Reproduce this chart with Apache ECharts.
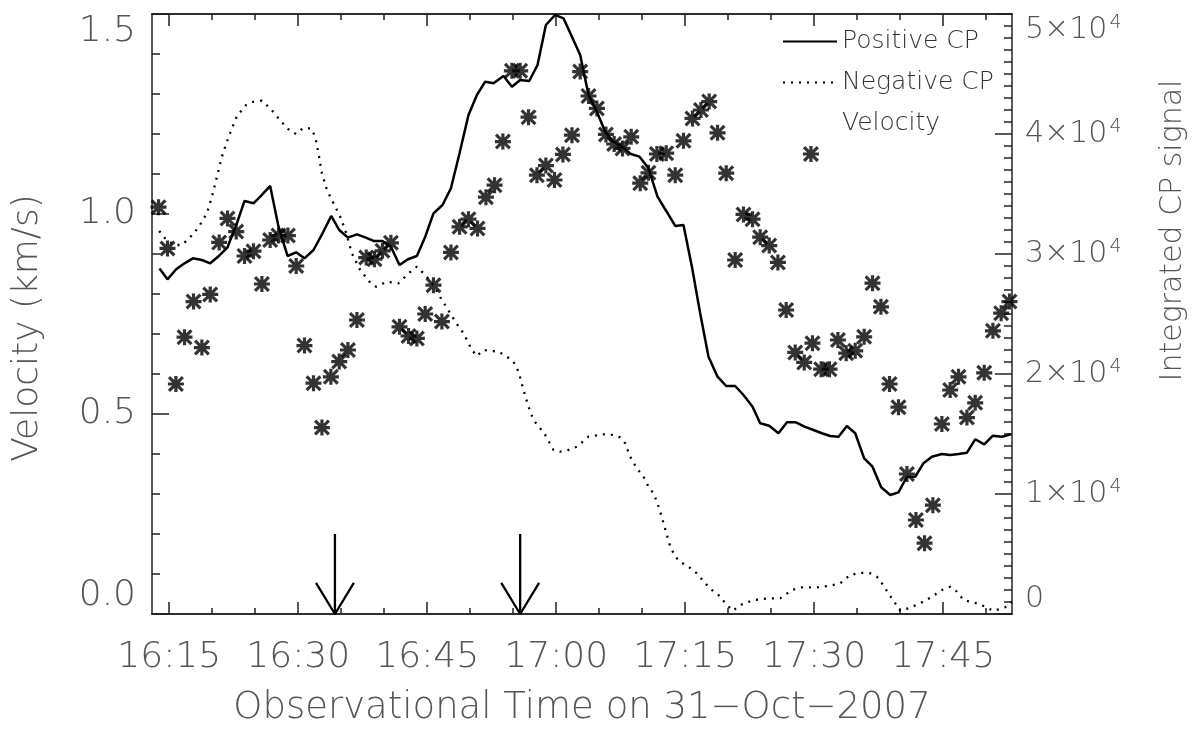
<!DOCTYPE html>
<html>
<head>
<meta charset="utf-8">
<script src="https://cdn.jsdelivr.net/npm/echarts@6/dist/echarts.min.js"></script>
<style>html,body{margin:0;padding:0;background:#fff;}#c{width:1203px;height:729px;}</style>
</head>
<body>
<div id="c"></div>
<script>
// Time in minutes after 16:00 UT, 31-Oct-2007
const posCpTime = [13.87,14.80,15.81,16.78,17.76,18.80,19.77,20.81,21.78,22.87,23.76,24.80,25.78,26.74,27.71,28.76,29.77,30.73,31.78,32.83,33.84,34.77,35.78,36.83,37.79,38.76,39.80,40.78,41.78,42.76,43.80,44.77,45.73,46.78,47.76,48.76,49.80,50.78,51.74,52.71,53.87,54.85,55.81,56.86,57.83,58.80,59.88,60.85,61.83,62.79,63.76,64.73,65.70,66.66,67.64,68.69,69.69,70.73,71.78,72.79,73.84,74.80,75.78,76.74,77.71,78.76,79.77,80.81,81.78,82.83,83.72,84.77,85.85,86.83,87.87,88.87,89.92,90.90,91.86,92.83,93.80,94.77,95.81,96.78,97.79,98.84,99.80,100.78,101.74,102.71,103.69,104.85,105.81,106.78,107.76,108.72,109.77,110.78,111.83,112.87];
const posCpValue = [28800,27890,28725,29225,29640,29500,29225,29860,30560,32560,34420,34225,34920,35670,32275,29835,30140,29640,30335,31725,33170,32000,31360,31640,31390,31085,31085,30610,29085,29560,29835,31440,33390,34085,35475,38390,41585,43250,44360,44225,44835,43940,44500,44415,45750,49085,49920,49640,48110,46585,43250,41860,40190,39360,38940,38335,38110,37140,34775,33585,32335,32420,28940,25060,21440,19775,19000,19000,18250,17275,15890,15690,15060,15975,15975,15610,15335,15060,14835,14775,15665,15060,12975,12275,10560,9915,10140,11440,11440,12560,13110,13335,13250,13335,13440,14560,14140,14860,14775,14975];

const negCpTime = [13.84,14.73,15.70,16.48,17.44,18.41,19.38,19.97,20.55,21.13,21.78,22.29,22.87,23.95,24.80,25.78,26.74,27.71,28.37,29.07,29.77,30.55,31.48,31.98,32.36,32.76,33.34,33.92,34.88,35.47,36.24,37.21,38.37,39.07,40.31,41.66,42.83,43.80,44.77,45.70,46.71,47.21,48.26,49.22,50.20,50.78,51.55,53.29,54.27,55.03,55.62,56.20,56.78,57.36,58.14,58.72,59.69,60.47,61.43,62.41,63.76,65.50,66.66,67.44,68.02,68.60,69.38,70.15,70.73,71.31,71.71,72.09,72.48,72.87,73.26,73.84,74.42,75.38,76.36,77.33,78.10,78.87,79.85,80.55,81.40,82.94,84.88,86.05,87.41,88.57,90.31,91.86,93.02,94.19,95.35,96.51,97.29,97.87,98.64,99.42,100.00,100.97,102.33,103.69,104.85,105.81,106.59,107.36,108.92,109.88,110.85,112.41,112.99];
const negCpValue = [31915,31110,30750,30750,31390,32225,33390,34775,36440,38110,39500,40475,41500,42415,42690,42775,42140,41310,40750,40250,40000,40475,40475,39775,38390,36725,35330,34500,33110,32000,30060,28665,27610,27275,27690,27560,28390,28940,28250,27415,26165,25610,24360,23390,22000,21500,22000,21860,21440,21025,20190,18665,17275,16165,15475,14915,13665,13525,13665,13940,14775,14975,14915,14725,14225,13110,12140,11440,10610,10060,9360,8525,7560,6585,5610,4775,4360,3940,3390,2560,2000,1585,750,275,750,1165,1310,1310,2000,2225,2225,2360,2560,3250,3440,3390,3110,2560,1725,890,275,475,890,1440,2000,2275,1860,1165,890,610,250,610,1025];

const velTime = [13.76,14.80,15.78,16.78,17.83,18.80,19.77,20.81,21.78,22.79,23.76,24.80,25.78,26.74,27.71,28.80,29.77,30.73,31.78,32.76,33.80,34.77,35.78,36.83,37.91,38.87,39.80,40.78,41.78,42.83,43.80,44.77,45.73,46.71,47.76,48.76,49.80,50.85,51.83,52.83,53.80,54.85,55.81,56.78,57.76,58.80,59.80,60.78,61.83,62.79,63.76,64.73,65.78,66.74,67.71,68.72,69.77,70.73,71.71,72.79,73.84,74.80,75.85,76.83,77.79,78.76,79.77,80.81,81.78,82.83,83.72,84.77,85.78,86.74,87.79,88.84,89.62,89.80,90.81,91.78,92.76,93.72,94.77,95.81,96.78,97.76,98.76,99.80,100.78,101.83,102.83,103.80,104.85,105.81,106.78,107.76,108.72,109.77,110.78,111.74,112.71];
const velValue = [1.017,0.914,0.575,0.692,0.781,0.666,0.799,0.929,0.989,0.956,0.895,0.907,0.825,0.935,0.946,0.946,0.870,0.671,0.577,0.466,0.593,0.631,0.660,0.735,0.891,0.887,0.908,0.928,0.718,0.695,0.689,0.750,0.822,0.731,0.904,0.968,0.987,0.964,1.042,1.072,1.181,1.358,1.358,1.242,1.097,1.121,1.085,1.149,1.197,1.356,1.295,1.264,1.199,1.175,1.164,1.193,1.077,1.103,1.150,1.152,1.097,1.183,1.239,1.260,1.281,1.203,1.102,0.885,0.999,0.987,0.942,0.921,0.879,0.760,0.654,0.629,1.150,0.677,0.612,0.612,0.685,0.652,0.658,0.693,0.827,0.768,0.575,0.517,0.350,0.235,0.177,0.272,0.475,0.560,0.593,0.491,0.528,0.603,0.708,0.752,0.781];

// Arrow marker times (minutes after 16:00) and shaft top (km/s)
const arrowTimes = [34.27, 55.81];
const arrowTop = 0.2;

const majorTickTimes = [15, 30, 45, 60, 75, 90, 105];
const minorTickTimes = [20, 25, 35, 40, 50, 55, 65, 70, 80, 85, 95, 100, 110];

const FONT = '"DejaVu Sans", sans-serif';
const LABEL_COLOR = '#555';
const ASTERISK = 'path://M0 8L20 8L20 12L0 12Z M8 0L12 0L12 20L8 20Z M0 2.8L2.8 0L20 17.2L17.2 20Z M17.2 0L20 2.8L2.8 20L0 17.2Z';

function zip(a, b) { return a.map((v, i) => [v, b[i]]); }
function fmtTime(m) {
  const h = 16 + Math.floor(m / 60);
  const mm = Math.round(m % 60);
  return h + ':' + (mm < 10 ? '0' : '') + mm;
}

const axisLine = { show: true, lineStyle: { color: '#222', width: 1.5 } };
function xAx(pos, ticks, len, withLabel) {
  return {
    type: 'value', position: pos, min: 13, max: 113,
    axisLine: axisLine,
    splitLine: { show: false },
    axisTick: { show: true, inside: true, length: len, customValues: ticks, lineStyle: { color: '#222', width: 1.5 } },
    axisLabel: withLabel ? {
      show: true, customValues: ticks, formatter: fmtTime, margin: 26,
      fontFamily: FONT, fontSize: 36, fontWeight: 200, color: LABEL_COLOR
    } : { show: false },
    name: withLabel ? 'Observational Time on 31\u2212Oct\u22122007' : '',
    nameLocation: 'middle', nameGap: 76,
    nameTextStyle: { fontFamily: FONT, fontSize: 37, fontWeight: 200, color: LABEL_COLOR }
  };
}

const series = [
  { name: 'Positive CP', type: 'line', yAxisIndex: 1, data: zip(posCpTime, posCpValue),
    symbol: 'none', lineStyle: { color: '#000', width: 2.5 }, itemStyle: { color: '#000' }, z: 3 },
  { name: 'Negative CP', type: 'line', yAxisIndex: 1, data: zip(negCpTime, negCpValue),
    symbol: 'none', lineStyle: { color: '#000', width: 2.3, type: [2, 6] }, itemStyle: { color: '#000' }, z: 3 },
  { name: 'Velocity', type: 'scatter', yAxisIndex: 0, data: zip(velTime, velValue),
    symbol: ASTERISK, symbolSize: 16, itemStyle: { color: '#000' }, z: 4 }
];
arrowTimes.forEach((t) => {
  series.push({ type: 'line', yAxisIndex: 0, data: [[t, arrowTop], [t, 0]], symbol: 'none',
    lineStyle: { color: '#000', width: 2.3 }, silent: true, z: 5 });
  series.push({ type: 'line', yAxisIndex: 0, data: [[t - 2.2, 0.078], [t, 0], [t + 2.2, 0.078]], symbol: 'none',
    lineStyle: { color: '#000', width: 2.3 }, silent: true, z: 5 });
});

const chart = echarts.init(document.getElementById('c'), null, { renderer: 'canvas' });
chart.setOption({
  backgroundColor: '#fff',
  animation: false,
  grid: { left: 152, right: 191, top: 14, bottom: 115, containLabel: false, outerBoundsMode: 'none' },
  legend: {
    left: 777, top: 24, orient: 'vertical', itemWidth: 54, itemHeight: 14, itemGap: 16,
    selectedMode: false,
    textStyle: { fontFamily: FONT, fontSize: 25, fontWeight: 200, color: '#333' },
    data: [
      { name: 'Positive CP', itemStyle: { opacity: 0 } },
      { name: 'Negative CP', itemStyle: { opacity: 0 } },
      { name: 'Velocity', icon: 'none' }
    ]
  },
  xAxis: [
    xAx('bottom', majorTickTimes, 12, true),
    xAx('bottom', minorTickTimes, 6, false),
    xAx('top', majorTickTimes, 12, false),
    xAx('top', minorTickTimes, 6, false)
  ],
  yAxis: [
    {
      type: 'value', position: 'left', min: 0, max: 1.5, interval: 0.5,
      axisLine: axisLine, splitLine: { show: false },
      axisTick: { show: true, inside: true, length: 17, lineStyle: { color: '#222', width: 1.5 } },
      minorTick: { show: true, splitNumber: 5, length: 8, lineStyle: { color: '#222', width: 1.5 } },
      axisLabel: { margin: 16, fontFamily: FONT, fontSize: 36, fontWeight: 200, color: LABEL_COLOR,
        formatter: v => v.toFixed(1), verticalAlignMinLabel: 'bottom', verticalAlignMaxLabel: 'top' },
      name: 'Velocity (km/s)', nameLocation: 'middle', nameRotate: 90, nameGap: 106,
      nameTextStyle: { fontFamily: FONT, fontSize: 36, fontWeight: 200, color: LABEL_COLOR, padding: [0, 28, 0, 0] }
    },
    {
      type: 'value', position: 'right', min: 0, max: 50000, interval: 10000,
      axisLine: axisLine, splitLine: { show: false },
      axisTick: { show: true, inside: true, length: 17, lineStyle: { color: '#222', width: 1.5 } },
      minorTick: { show: true, splitNumber: 10, length: 8, lineStyle: { color: '#222', width: 1.5 } },
      axisLabel: { margin: 13, fontFamily: FONT, fontSize: 30, fontWeight: 200, color: LABEL_COLOR,
        verticalAlignMinLabel: 'bottom', verticalAlignMaxLabel: 'top',
        formatter: v => v === 0 ? '0' : (v / 10000) + '\u00d710{sup|4}',
        rich: { sup: { fontFamily: FONT, fontSize: 19, fontWeight: 200, color: LABEL_COLOR, verticalAlign: 'top', padding: [0, 0, 14, 2] } } },
      name: 'Integrated CP signal', nameLocation: 'middle', nameRotate: 90, nameGap: 146,
      nameTextStyle: { fontFamily: FONT, fontSize: 30, fontWeight: 200, color: LABEL_COLOR, padding: [0, 0, 0, 167] }
    }
  ],
  series: series
});
</script>
</body>
</html>
